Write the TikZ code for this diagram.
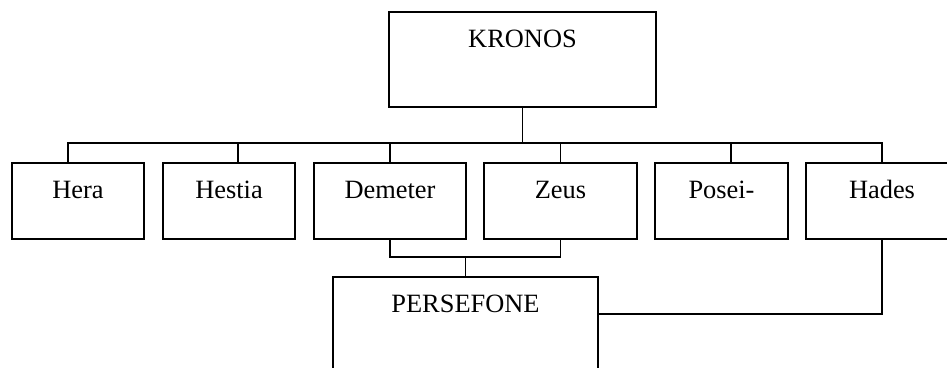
\documentclass[tikz,border=0pt]{standalone}
\usepackage{fontspec}
\setmainfont{Liberation Serif}
\begin{document}
\begin{tikzpicture}[x=1pt,y=-1pt,
  box/.style={draw,line width=1.6pt,inner sep=0pt,anchor=north,
    font=\fontsize{26.4}{30}\selectfont,text height=36pt},
  conn/.style={line width=1.6pt}]
\useasboundingbox (0,0) rectangle (947,367);
\clip (0,0) rectangle (947,367);
\node[box,minimum width=267pt,text depth=59pt] (kronos) at (522.5,11) {KRONOS};
\node[box,minimum width=132pt,text depth=40pt] (hera) at (78,162) {Hera};
\node[box,minimum width=132pt,text depth=40pt] (hestia) at (229,162) {Hestia};
\node[box,minimum width=152pt,text depth=40pt] (demeter) at (390,162) {Demeter};
\node[box,minimum width=153pt,text depth=40pt] (zeus) at (560.5,162) {Zeus};
\node[box,minimum width=133pt,text depth=40pt] (posei) at (721.5,162) {Posei-};
\node[box,minimum width=152pt,text depth=40pt] (hades) at (882,162) {Hades};
\node[box,minimum width=265pt,text depth=90pt] (persefone) at (465.5,276) {PERSEFONE};
\coordinate (bus) at (0,143);
\coordinate (join) at (0,257);
\coordinate (hl) at (0,314);
\draw[conn] (kronos.south) -- (kronos.south |- bus);
\draw[conn] ([xshift=-10pt]hera.north) -- ([xshift=-10pt]hera.north |- bus) -- (hades.north |- bus) -- (hades.north);
\draw[conn] ([xshift=9pt]hestia.north) -- ([xshift=9pt]hestia.north |- bus);
\draw[conn] (demeter.north) -- (demeter.north |- bus);
\draw[conn] (zeus.north) -- (zeus.north |- bus);
\draw[conn] ([xshift=9.5pt]posei.north) -- ([xshift=9.5pt]posei.north |- bus);
\draw[conn] (demeter.south) -- (demeter.south |- join) -- (zeus.south |- join) -- (zeus.south);
\draw[conn] (persefone.north) -- (persefone.north |- join);
\draw[conn] (hades.south) |- (persefone.north east |- hl);
\end{tikzpicture}
\end{document}
